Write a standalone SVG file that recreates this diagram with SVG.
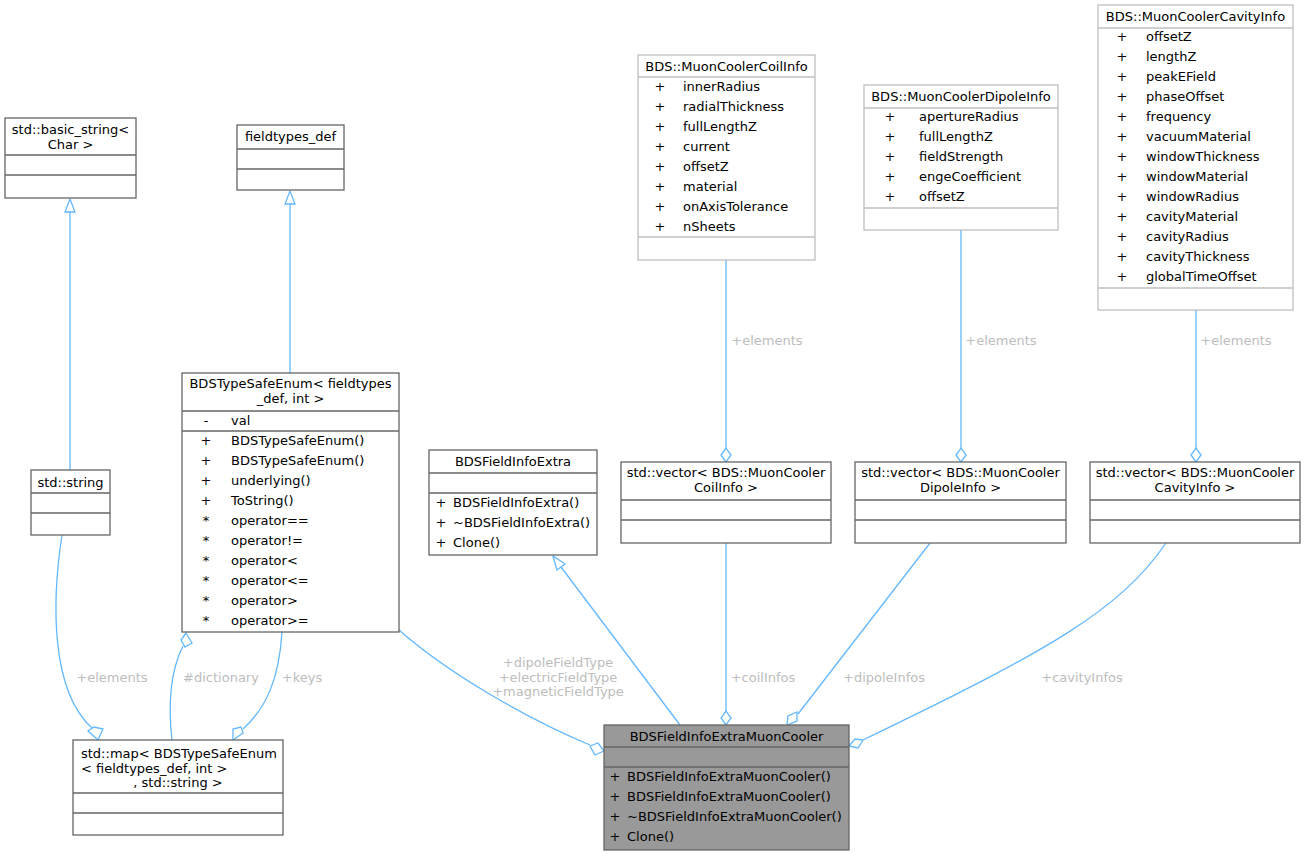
<svg xmlns="http://www.w3.org/2000/svg" width="1307" height="856" viewBox="0 0 1307 856">
<style>
text{font-family:"DejaVu Sans","Liberation Sans",sans-serif;font-size:13px;fill:#000}
.c{text-anchor:middle}
.lbl{fill:#bdbdbd;text-anchor:middle}
.box{fill:#fff;stroke:#666;stroke-width:1.3}
.lt{fill:#fff;stroke:#bfbfbf;stroke-width:1.3}
.main{fill:#999;stroke:#666;stroke-width:1.3}
.sep{stroke:#666;stroke-width:1.3}
.sepl{stroke:#bfbfbf;stroke-width:1.3}
.e{fill:none;stroke:#63b8ff;stroke-width:1.3}
.ah{fill:#fff;stroke:#63b8ff;stroke-width:1.3}
</style>
<g id="connectors">
<!-- basic_string -> std::string -->
<path class="e" d="M70,470 L70,212"/>
<polygon class="ah" points="70,199 65,212 75,212"/>
<!-- fieldtypes_def -> BDSTypeSafeEnum -->
<path class="e" d="M290,373 L290,204"/>
<polygon class="ah" points="290,191 285,204 295,204"/>
<!-- std::string -> map elements -->
<path class="e" d="M62,535 C52,600 50,690 92,728"/>
<polygon class="ah" points="98,740 103,729 94,727 88,731"/>
<text class="lbl" x="112" y="682">+elements</text>
<!-- map -> BDSTypeSafeEnum dictionary -->
<path class="e" d="M172,740 C168,705 170,672 183,646"/>
<polygon class="ah" points="186,633 192,643 185,647 181,640"/>
<text class="lbl" x="221" y="682">#dictionary</text>
<!-- BDSTypeSafeEnum -> map keys -->
<path class="e" d="M282,632 C279,680 266,708 243,729"/>
<polygon class="ah" points="233,740 233,729 241,727 243,733"/>
<text class="lbl" x="302" y="682">+keys</text>
<!-- BDSTypeSafeEnum -> main -->
<path class="e" d="M399,630 C450,675 530,720 590,745"/>
<polygon class="ah" points="604,751 595,755 590,746 598,743"/>
<text class="lbl" x="558" y="667">+dipoleFieldType</text>
<text class="lbl" x="558" y="682">+electricFieldType</text>
<text class="lbl" x="558" y="696">+magneticFieldType</text>
<!-- BDSFieldInfoExtra -> main (inheritance) -->
<path class="e" d="M680,725 L561,567"/>
<polygon class="ah" points="553,556 557,570 565,564"/>
<!-- coil vector -> main -->
<path class="e" d="M726,543 L726,711"/>
<polygon class="ah" points="726,725 721,718 726,711 731,718"/>
<text class="lbl" x="763" y="682">+coilInfos</text>
<!-- dipole vector -> main -->
<path class="e" d="M930,543 L798,714"/>
<polygon class="ah" points="787,725 788,716 797,712 797,721"/>
<text class="lbl" x="884" y="682">+dipoleInfos</text>
<!-- cavity vector -> main -->
<path class="e" d="M1166,543 C1120,610 1050,650 863,740"/>
<polygon class="ah" points="849,746 855,739 863,740 858,748"/>
<text class="lbl" x="1082" y="682">+cavityInfos</text>
<!-- CoilInfo -> coil vector -->
<path class="e" d="M726,260 L726,448"/>
<polygon class="ah" points="726,462 721,455 726,448 731,455"/>
<text class="lbl" x="767" y="345">+elements</text>
<!-- DipoleInfo -> dipole vector -->
<path class="e" d="M961,230 L961,448"/>
<polygon class="ah" points="961,462 956,455 961,448 966,455"/>
<text class="lbl" x="1001" y="345">+elements</text>
<!-- CavityInfo -> cavity vector -->
<path class="e" d="M1196,310 L1196,448"/>
<polygon class="ah" points="1196,462 1191,455 1196,448 1201,455"/>
<text class="lbl" x="1236" y="345">+elements</text>
</g>
<g id="node_basic_string">
<rect class="box" x="5" y="118" width="131" height="80"/>
<line class="sep" x1="5" y1="155" x2="136" y2="155"/>
<line class="sep" x1="5" y1="175" x2="136" y2="175"/>
<text class="c" x="70.5" y="134">std::basic_string&lt;</text>
<text class="c" x="70.5" y="149">Char &gt;</text>
</g>
<g id="node_fieldtypes_def">
<rect class="box" x="237" y="125" width="107" height="65"/>
<line class="sep" x1="237" y1="149" x2="344" y2="149"/>
<line class="sep" x1="237" y1="169" x2="344" y2="169"/>
<text class="c" x="290.5" y="141">fieldtypes_def</text>
</g>
<g id="node_std_string">
<rect class="box" x="31" y="470" width="79" height="65"/>
<line class="sep" x1="31" y1="493" x2="110" y2="493"/>
<line class="sep" x1="31" y1="513" x2="110" y2="513"/>
<text class="c" x="70.5" y="487">std::string</text>
</g>
<g id="node_BDSTypeSafeEnum">
<rect class="box" x="182" y="373" width="217" height="259"/>
<line class="sep" x1="182" y1="411" x2="399" y2="411"/>
<line class="sep" x1="182" y1="431" x2="399" y2="431"/>
<text class="c" x="290.5" y="388">BDSTypeSafeEnum&lt; fieldtypes</text>
<text class="c" x="290.5" y="403">_def, int &gt;</text>
<text class="c" x="206" y="425">-</text><text x="231" y="425">val</text>
<text class="c" x="206" y="445">+</text><text x="231" y="445">BDSTypeSafeEnum()</text>
<text class="c" x="206" y="465">+</text><text x="231" y="465">BDSTypeSafeEnum()</text>
<text class="c" x="206" y="485">+</text><text x="231" y="485">underlying()</text>
<text class="c" x="206" y="505">+</text><text x="231" y="505">ToString()</text>
<text class="c" x="206" y="525">*</text><text x="231" y="525">operator==</text>
<text class="c" x="206" y="545">*</text><text x="231" y="545">operator!=</text>
<text class="c" x="206" y="565">*</text><text x="231" y="565">operator&lt;</text>
<text class="c" x="206" y="585">*</text><text x="231" y="585">operator&lt;=</text>
<text class="c" x="206" y="605">*</text><text x="231" y="605">operator&gt;</text>
<text class="c" x="206" y="625">*</text><text x="231" y="625">operator&gt;=</text>
</g>
<g id="node_BDSFieldInfoExtra">
<rect class="box" x="429" y="450" width="168" height="105"/>
<line class="sep" x1="429" y1="473" x2="597" y2="473"/>
<line class="sep" x1="429" y1="493" x2="597" y2="493"/>
<text class="c" x="513" y="466">BDSFieldInfoExtra</text>
<text class="c" x="441" y="507">+</text><text x="453" y="507">BDSFieldInfoExtra()</text>
<text class="c" x="441" y="527">+</text><text x="453" y="527">~BDSFieldInfoExtra()</text>
<text class="c" x="441" y="547">+</text><text x="453" y="547">Clone()</text>
</g>
<g id="node_vector_coil">
<rect class="box" x="621" y="462" width="210" height="81"/>
<line class="sep" x1="621" y1="500" x2="831" y2="500"/>
<line class="sep" x1="621" y1="520" x2="831" y2="520"/>
<text class="c" x="726" y="477">std::vector&lt; BDS::MuonCooler</text>
<text class="c" x="726" y="492">CoilInfo &gt;</text>
</g>
<g id="node_vector_dipole">
<rect class="box" x="855" y="462" width="211" height="81"/>
<line class="sep" x1="855" y1="500" x2="1066" y2="500"/>
<line class="sep" x1="855" y1="520" x2="1066" y2="520"/>
<text class="c" x="960.5" y="477">std::vector&lt; BDS::MuonCooler</text>
<text class="c" x="960.5" y="492">DipoleInfo &gt;</text>
</g>
<g id="node_vector_cavity">
<rect class="box" x="1090" y="462" width="210" height="81"/>
<line class="sep" x1="1090" y1="500" x2="1300" y2="500"/>
<line class="sep" x1="1090" y1="520" x2="1300" y2="520"/>
<text class="c" x="1195" y="477">std::vector&lt; BDS::MuonCooler</text>
<text class="c" x="1195" y="492">CavityInfo &gt;</text>
</g>
<g id="node_CoilInfo">
<rect class="lt" x="638" y="55" width="177" height="205"/>
<line class="sepl" x1="638" y1="77" x2="815" y2="77"/>
<line class="sepl" x1="638" y1="237" x2="815" y2="237"/>
<text class="c" x="726.5" y="71">BDS::MuonCoolerCoilInfo</text>
<text class="c" x="660" y="91">+</text><text x="683" y="91">innerRadius</text>
<text class="c" x="660" y="111">+</text><text x="683" y="111">radialThickness</text>
<text class="c" x="660" y="131">+</text><text x="683" y="131">fullLengthZ</text>
<text class="c" x="660" y="151">+</text><text x="683" y="151">current</text>
<text class="c" x="660" y="171">+</text><text x="683" y="171">offsetZ</text>
<text class="c" x="660" y="191">+</text><text x="683" y="191">material</text>
<text class="c" x="660" y="211">+</text><text x="683" y="211">onAxisTolerance</text>
<text class="c" x="660" y="231">+</text><text x="683" y="231">nSheets</text>
</g>
<g id="node_DipoleInfo">
<rect class="lt" x="864" y="85" width="194" height="145"/>
<line class="sepl" x1="864" y1="108" x2="1058" y2="108"/>
<line class="sepl" x1="864" y1="208" x2="1058" y2="208"/>
<text class="c" x="961" y="101">BDS::MuonCoolerDipoleInfo</text>
<text class="c" x="890" y="121">+</text><text x="919" y="121">apertureRadius</text>
<text class="c" x="890" y="141">+</text><text x="919" y="141">fullLengthZ</text>
<text class="c" x="890" y="161">+</text><text x="919" y="161">fieldStrength</text>
<text class="c" x="890" y="181">+</text><text x="919" y="181">engeCoefficient</text>
<text class="c" x="890" y="201">+</text><text x="919" y="201">offsetZ</text>
</g>
<g id="node_CavityInfo">
<rect class="lt" x="1098" y="5" width="195" height="305"/>
<line class="sepl" x1="1098" y1="28" x2="1293" y2="28"/>
<line class="sepl" x1="1098" y1="288" x2="1293" y2="288"/>
<text class="c" x="1195.5" y="21">BDS::MuonCoolerCavityInfo</text>
<text class="c" x="1122" y="41">+</text><text x="1146" y="41">offsetZ</text>
<text class="c" x="1122" y="61">+</text><text x="1146" y="61">lengthZ</text>
<text class="c" x="1122" y="81">+</text><text x="1146" y="81">peakEField</text>
<text class="c" x="1122" y="101">+</text><text x="1146" y="101">phaseOffset</text>
<text class="c" x="1122" y="121">+</text><text x="1146" y="121">frequency</text>
<text class="c" x="1122" y="141">+</text><text x="1146" y="141">vacuumMaterial</text>
<text class="c" x="1122" y="161">+</text><text x="1146" y="161">windowThickness</text>
<text class="c" x="1122" y="181">+</text><text x="1146" y="181">windowMaterial</text>
<text class="c" x="1122" y="201">+</text><text x="1146" y="201">windowRadius</text>
<text class="c" x="1122" y="221">+</text><text x="1146" y="221">cavityMaterial</text>
<text class="c" x="1122" y="241">+</text><text x="1146" y="241">cavityRadius</text>
<text class="c" x="1122" y="261">+</text><text x="1146" y="261">cavityThickness</text>
<text class="c" x="1122" y="281">+</text><text x="1146" y="281">globalTimeOffset</text>
</g>
<g id="node_map">
<rect class="box" x="73" y="740" width="210" height="95"/>
<line class="sep" x1="73" y1="793" x2="283" y2="793"/>
<line class="sep" x1="73" y1="813" x2="283" y2="813"/>
<text x="81" y="758">std::map&lt; BDSTypeSafeEnum</text>
<text x="81" y="773">&lt; fieldtypes_def, int &gt;</text>
<text class="c" x="178" y="787">, std::string &gt;</text>
</g>
<g id="node_main">
<rect class="main" x="604" y="725" width="245" height="125"/>
<line class="sep" x1="604" y1="747" x2="849" y2="747"/>
<line class="sep" x1="604" y1="767" x2="849" y2="767"/>
<text class="c" x="726.5" y="741">BDSFieldInfoExtraMuonCooler</text>
<text class="c" x="615" y="781">+</text><text x="627" y="781">BDSFieldInfoExtraMuonCooler()</text>
<text class="c" x="615" y="801">+</text><text x="627" y="801">BDSFieldInfoExtraMuonCooler()</text>
<text class="c" x="615" y="821">+</text><text x="627" y="821">~BDSFieldInfoExtraMuonCooler()</text>
<text class="c" x="615" y="841">+</text><text x="627" y="841">Clone()</text>
</g>
</svg>
